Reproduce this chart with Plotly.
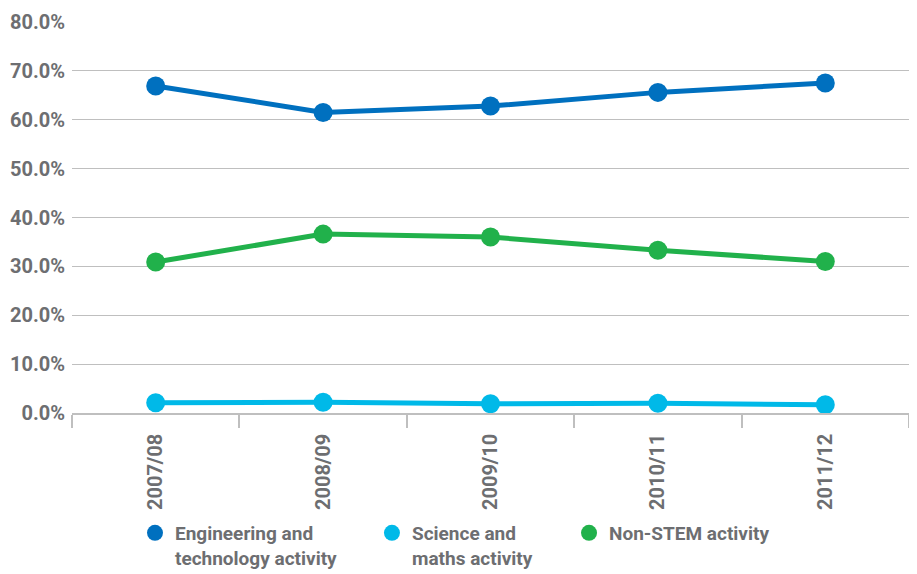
import plotly.graph_objects as go

years = ["2007/08", "2008/09", "2009/10", "2010/11", "2011/12"]
eng = [0.669, 0.615, 0.628, 0.656, 0.675]
sci = [0.021, 0.022, 0.019, 0.020, 0.017]
non_stem = [0.309, 0.366, 0.360, 0.333, 0.310]

names = ["Engineering and<br>technology activity", "Science and<br>maths activity", "Non-STEM activity"]
colors = ["#0070BF", "#00B9E8", "#21B14B"]
series = [eng, sci, non_stem]
legend_ids = ["legend", "legend2", "legend3"]
legend_x = [0.1397, 0.4004, 0.6172]

FONT = "Roboto, sans-serif"
GREY = "#6D6E71"
BOLD = dict(family=FONT, size=20, color=GREY, weight="bold")
LEG_FONT = dict(family=FONT, size=19, color=GREY, weight="bold")

fig = go.Figure()
for vals, col in zip(series, colors):
    fig.add_trace(go.Scatter(x=years, y=vals, mode="lines+markers",
                             line=dict(color=col, width=5),
                             marker=dict(color=col, size=19),
                             showlegend=False, hoverinfo="skip"))
for name, col, lid in zip(names, colors, legend_ids):
    fig.add_trace(go.Scatter(x=[None], y=[None], mode="markers", name=name,
                             marker=dict(color=col, size=19), legend=lid))

leg_common = dict(orientation="h", xref="container", yref="container",
                  yanchor="top", y=0.1060, xanchor="left",
                  font=LEG_FONT, itemwidth=30, valign="top", bgcolor="rgba(0,0,0,0)")

# the page body adds an 8px offset, so the figure is 8px smaller on each side
fig.update_layout(
    width=909, height=566,
    margin=dict(l=64, r=8, t=14, b=161),
    plot_bgcolor="white", paper_bgcolor="white",
    font=BOLD,
    xaxis=dict(type="category", range=[-0.5, 4.5], tickangle=-90, showgrid=False,
               ticks="outside", tickson="boundaries", ticklen=13,
               tickcolor="#BFBFBF", tickwidth=1.5, showline=True, linecolor="#BFBFBF",
               linewidth=1.5, tickfont=BOLD, ticklabelstandoff=11, automargin=False),
    yaxis=dict(range=[0, 0.8], dtick=0.1, tickformat=".1%", showgrid=True,
               gridcolor="#BFBFBF", gridwidth=1.2, zeroline=False,
               ticks="", ticklabelstandoff=6, tickfont=BOLD, automargin=False),
    legend=dict(x=legend_x[0], **leg_common),
    legend2=dict(x=legend_x[1], **leg_common),
    legend3=dict(x=legend_x[2], **leg_common),
)

fig.write_html("out.html")
